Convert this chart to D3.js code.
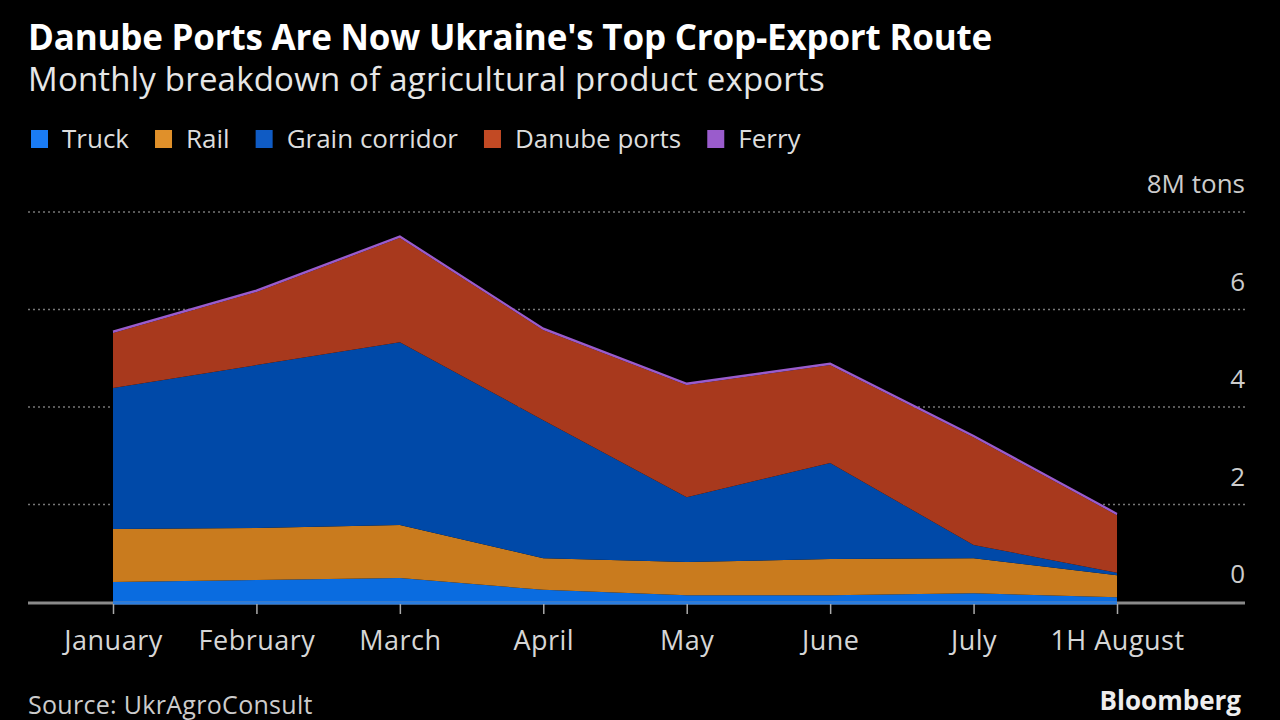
<!DOCTYPE html>
<html>
<head>
<meta charset="utf-8">
<script src="https://cdn.jsdelivr.net/npm/d3@7"></script>
<style>
  body { margin: 0; background: #000; }
  svg { display: block; font-family: "Open Sans", "Noto Sans", sans-serif; }
</style>
</head>
<body>
<div id="chart"></div>
<script>
// data, million tons
var months = ["January", "February", "March", "April", "May", "June", "July", "1H August"];
var truck  = [0.41, 0.45, 0.49, 0.25, 0.14, 0.14, 0.18, 0.10];
var rail   = [1.09, 1.07, 1.09, 0.65, 0.68, 0.74, 0.72, 0.45];
var grain  = [2.89, 3.34, 3.75, 2.83, 1.33, 1.97, 0.27, 0.05];
var danube = [1.13, 1.50, 2.14, 1.85, 2.30, 2.01, 2.21, 1.18];
var ferry  = [0.03, 0.03, 0.03, 0.03, 0.03, 0.03, 0.03, 0.03];
var yTicks = [0, 2, 4, 6, 8];

var seriesNames = ["Truck", "Rail", "Grain corridor", "Danube ports", "Ferry"];
var areaColors = ["#0a6ce0", "#c97b1e", "#0049a8", "#a8391d", "#9a5ccc"];
var legendColors = ["#1a7cf5", "#e0902a", "#0f5bc4", "#c24a24", "#9a5ccc"];

var width = 1280, height = 720;
var svg = d3.select("#chart").append("svg")
    .attr("width", width)
    .attr("height", height);

svg.append("rect").attr("width", width).attr("height", height).attr("fill", "#000");

// title + subtitle
svg.append("text")
    .attr("x", 28).attr("y", 50)
    .attr("fill", "#fff")
    .style("font-size", "35px").style("font-weight", "bold")
    .style("letter-spacing", "-0.2px")
    .text("Danube Ports Are Now Ukraine's Top Crop-Export Route");
svg.append("text")
    .attr("x", 28).attr("y", 91)
    .attr("fill", "#e6e6e6")
    .style("font-size", "33px")
    .style("letter-spacing", "0.2px")
    .text("Monthly breakdown of agricultural product exports");

// legend
var lx = 31;
seriesNames.forEach(function (name, i) {
    svg.append("rect")
        .attr("x", lx).attr("y", 130)
        .attr("width", 17).attr("height", 18)
        .attr("fill", legendColors[i]);
    var t = svg.append("text")
        .attr("x", lx + 31).attr("y", 148)
        .attr("fill", "#ddd")
        .style("font-size", "26px")
        .text(name);
    lx += 31 + t.node().getComputedTextLength() + 26;
});

// scales
var x = d3.scalePoint().domain(months).range([113, 1117]);
var y = d3.scaleLinear().domain([0, 8]).range([602, 212]);

// grid lines (dotted), except the zero line
svg.append("g").selectAll("line")
    .data(yTicks.filter(function (d) { return d > 0; }))
    .enter().append("line")
    .attr("x1", 28).attr("x2", 1245)
    .attr("y1", function (d) { return y(d); })
    .attr("y2", function (d) { return y(d); })
    .attr("stroke", "#777")
    .attr("stroke-width", 1.5)
    .attr("stroke-dasharray", "2,3");

// y labels
svg.append("g").selectAll("text")
    .data(yTicks)
    .enter().append("text")
    .attr("x", 1245)
    .attr("y", function (d) { return y(d) - 19; })
    .attr("text-anchor", "end")
    .attr("fill", "#ccc")
    .style("font-size", "26px")
    .text(function (d) { return d === 8 ? "8M tons" : d; });

// stacked areas
var rows = months.map(function (m, i) {
    return { month: m, Truck: truck[i], Rail: rail[i], "Grain corridor": grain[i],
             "Danube ports": danube[i], Ferry: ferry[i] };
});
var stack = d3.stack().keys(seriesNames);
var layers = stack(rows);

var area = d3.area()
    .x(function (d) { return x(d.data.month); })
    .y0(function (d) { return y(d[0]); })
    .y1(function (d) { return y(d[1]); });

svg.append("g").selectAll("path")
    .data(layers)
    .enter().append("path")
    .attr("d", area)
    .attr("fill", function (d, i) { return areaColors[i]; });

// thin ferry edge on top
svg.append("path")
    .datum(layers[4])
    .attr("d", d3.line()
        .x(function (d) { return x(d.data.month); })
        .y(function (d) { return y(d[1]); }))
    .attr("fill", "none")
    .attr("stroke", "#9a5ccc")
    .attr("stroke-width", 2);

// baseline
svg.append("line")
    .attr("x1", 28).attr("x2", 1245)
    .attr("y1", y(0) + 1).attr("y2", y(0) + 1)
    .attr("stroke", "#8a8a8a")
    .attr("stroke-width", 3);
svg.append("line")
    .attr("x1", x(months[0])).attr("x2", x(months[months.length - 1]))
    .attr("y1", y(0) + 1).attr("y2", y(0) + 1)
    .attr("stroke", "#2a7de0")
    .attr("stroke-width", 3);

// x axis ticks + labels
var xAxis = svg.append("g")
    .attr("transform", "translate(0," + (y(0) + 2) + ")")
    .call(d3.axisBottom(x).tickSize(10));
xAxis.select(".domain").remove();
xAxis.selectAll("line").attr("stroke", "#aaa").attr("stroke-width", 1.5);
xAxis.selectAll("text")
    .attr("y", 46)
    .attr("dy", null)
    .attr("fill", "#d6d6d6")
    .style("font-size", "27px")
    .style("letter-spacing", "0.5px")
    .style("font-family", "'Open Sans', 'Noto Sans', sans-serif");

// footer
svg.append("text")
    .attr("x", 28).attr("y", 714)
    .attr("fill", "#ccc")
    .style("font-size", "25px")
    .style("letter-spacing", "0.3px")
    .text("Source: UkrAgroConsult");
svg.append("text")
    .attr("x", 1241).attr("y", 710)
    .attr("text-anchor", "end")
    .attr("fill", "#eee")
    .style("font-size", "26px").style("font-weight", "bold")
    .text("Bloomberg");
</script>
</body>
</html>
